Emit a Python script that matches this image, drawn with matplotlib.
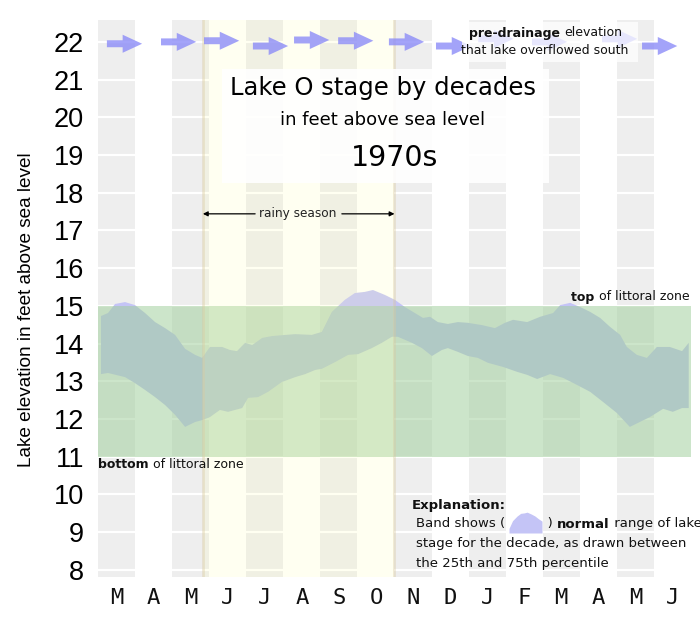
import numpy as np
import matplotlib.pyplot as plt
import matplotlib.font_manager as fm
from matplotlib.patches import Rectangle

W, H = 700, 623

month_labels = ['M', 'A', 'M', 'J', 'J', 'A', 'S', 'O', 'N', 'D', 'J', 'F', 'M', 'A', 'M', 'J']

# 75th percentile edge of the band (month position from start of March, feet)
upper_month = [0.08, 0.27, 0.46, 0.73, 1.00, 1.27, 1.54, 1.81, 2.08, 2.35, 2.62, 2.81,
               3.02, 3.35, 3.56, 3.75, 3.97, 4.16, 4.43, 4.70, 5.32, 5.77, 6.04, 6.31,
               6.66, 6.93, 7.20, 7.42, 7.74, 8.01, 8.28, 8.55, 8.77, 8.96, 9.17, 9.44,
               9.71, 9.98, 10.36, 10.71, 10.98, 11.20, 11.58, 11.93, 12.28, 12.47, 12.74,
               13.01, 13.28, 13.55, 13.82, 14.09, 14.27, 14.54, 14.81, 15.08, 15.43,
               15.76, 15.94]
upper_ft = [14.73, 14.81, 15.05, 15.10, 15.02, 14.81, 14.57, 14.41, 14.23, 13.86, 13.70, 13.62,
            13.91, 13.91, 13.83, 13.80, 14.02, 13.96, 14.15, 14.20, 14.25, 14.23, 14.31, 14.84,
            15.16, 15.34, 15.37, 15.42, 15.29, 15.16, 14.97, 14.81, 14.68, 14.71, 14.57, 14.52,
            14.57, 14.55, 14.49, 14.41, 14.55, 14.63, 14.57, 14.71, 14.81, 15.02, 15.08,
            14.97, 14.84, 14.68, 14.44, 14.23, 13.91, 13.70, 13.62, 13.91, 13.91,
            13.80, 14.02]

# 25th percentile edge
lower_month = [0.08, 0.27, 0.73, 1.00, 1.27, 1.54, 1.81, 2.08, 2.35, 2.62, 2.81, 3.02,
               3.29, 3.51, 3.89, 4.05, 4.32, 4.59, 4.96, 5.32, 5.59, 5.86, 6.04, 6.40,
               6.75, 7.02, 7.39, 7.66, 7.93, 8.09, 8.47, 8.74, 9.01, 9.28, 9.44, 9.71,
               9.98, 10.25, 10.52, 10.93, 11.31, 11.58, 11.85, 12.20, 12.55, 12.93,
               13.28, 13.63, 14.00, 14.35, 14.62, 14.89, 15.25, 15.51, 15.76, 15.94]
lower_ft = [13.19, 13.22, 13.11, 12.95, 12.77, 12.58, 12.37, 12.11, 11.79, 11.92, 11.97, 12.05,
            12.24, 12.19, 12.29, 12.56, 12.58, 12.72, 12.98, 13.11, 13.19, 13.30, 13.33, 13.51,
            13.70, 13.72, 13.88, 14.02, 14.18, 14.18, 14.02, 13.88, 13.67, 13.83, 13.88, 13.78,
            13.67, 13.62, 13.49, 13.38, 13.25, 13.17, 13.06, 13.19, 13.09, 12.90,
            12.72, 12.45, 12.16, 11.79, 11.92, 12.05, 12.27, 12.19, 12.29, 12.29]

littoral_bottom = 11
littoral_top = 15
rainy_start = 2.83
rainy_end = 8.0

# pre-drainage overflow arrows near 22 ft
arrow_month = [0.24, 1.70, 2.86, 4.18, 5.29, 6.48, 7.85, 9.12, 10.26, 11.71, 13.60, 14.68]
arrow_ft = [21.95, 22.0, 22.03, 21.89, 22.05, 22.03, 22.0, 21.89, 22.08, 22.0, 22.08, 21.89]
arrow_len = 0.95


def fxy(x, y):
    return x / W, 1 - y / H


def runs(x, y, pieces, size, color='#111111'):
    # write text pieces one after another (mixing bold and normal)
    r = fig.canvas.get_renderer()
    for s, w in pieces:
        t = fig.text(*fxy(x, y), s, size=size, weight=w, color=color,
                     ha='left', va='center', zorder=10)
        x += t.get_window_extent(r).width


fig = plt.figure(figsize=(7, 6.23), dpi=100)
ax = fig.add_axes([98 / W, 46 / H, 600 / W, 557 / H])
ax.set_xlim(0, 600 / 37.06)
ax.set_ylim(7.81, 22.58)

for i in range(0, 16, 2):
    ax.axvspan(i, i + 1, color='#eeeeee', lw=0, zorder=0.5)
for v in range(8, 23):
    ax.axhline(v, color='white', lw=1.6, zorder=1)

ax.fill(np.r_[upper_month, lower_month[::-1]], np.r_[upper_ft, lower_ft[::-1]],
        color='#c4c4f6', lw=0, zorder=2)
ax.axhspan(littoral_bottom, littoral_top, xmax=16 / (600 / 37.06),
           color='#a0ce9b', alpha=0.53, lw=0, zorder=3)

ax.axvspan(rainy_start, rainy_end, color='#ffffb0', alpha=0.17, lw=0, zorder=5)
for xv in (rainy_start, rainy_end):
    ax.axvline(xv, color='#d9c9a0', alpha=0.4, lw=2, zorder=5)

for m, v in zip(arrow_month, arrow_ft):
    ax.annotate('', xy=(m + arrow_len, v), xytext=(m, v), zorder=6,
                arrowprops=dict(arrowstyle='simple,head_length=1.4,head_width=1.3,tail_width=0.5',
                                mutation_scale=10, fc='#8c8cf8', ec='none', alpha=0.8,
                                shrinkA=0, shrinkB=0))

# rainy season marker
ax.annotate('', xy=(rainy_start, 17.44), xytext=(4.24, 17.44), zorder=7,
            arrowprops=dict(arrowstyle='-|>', mutation_scale=7, color='black', lw=0.9,
                            shrinkA=0, shrinkB=0))
ax.annotate('', xy=(rainy_end, 17.44), xytext=(6.58, 17.44), zorder=7,
            arrowprops=dict(arrowstyle='-|>', mutation_scale=7, color='black', lw=0.9,
                            shrinkA=0, shrinkB=0))
ax.text(5.39, 17.44, 'rainy season', size=8.7, ha='center', va='center', color='#222222', zorder=7)

for s in ax.spines.values():
    s.set_visible(False)
ax.set_yticks(range(8, 23))
ax.tick_params(axis='y', length=0, pad=10, labelsize=19.5)
for lbl in ax.get_yticklabels():
    lbl.set_fontfamily('Liberation Sans')
ax.set_xticks(np.arange(16) + 0.5, month_labels)
ax.tick_params(axis='x', length=0, pad=8, labelsize=16, labelcolor='#111111')
for lbl in ax.get_xticklabels():
    lbl.set_fontfamily('DejaVu Sans Mono')

# y label: narrow font if there is one, fitted to the reference length
names = {f.name for f in fm.fontManager.ttflist}
yfam = 'Liberation Sans Narrow' if 'Liberation Sans Narrow' in names else 'Liberation Sans'
ylab = fig.text(27 / W, 1 - 310 / H, 'Lake elevation in feet above sea level', rotation=90,
                ha='center', va='center', size=15.5, family=yfam)
span = ylab.get_window_extent(fig.canvas.get_renderer()).height
ylab.set_fontsize(15.5 * 316 / span)

# title box
fig.add_artist(Rectangle(fxy(222, 183), 327 / W, 114 / H, transform=fig.transFigure,
                         fc='white', ec='none', alpha=0.9, zorder=8))
fig.text(*fxy(383, 88), 'Lake O stage by decades', size=17.5, ha='center', va='center', zorder=10)
fig.text(*fxy(383, 120), 'in feet above sea level', size=13, ha='center', va='center', zorder=10)
fig.text(*fxy(395, 158), '1970s', size=20.5, ha='center', va='center', zorder=10)

# pre-drainage note
fig.add_artist(Rectangle(fxy(462, 62), 176 / W, 40 / H, transform=fig.transFigure,
                         fc='white', ec='none', alpha=0.75, zorder=8))
runs(469, 33, [('pre-drainage ', 'bold'), ('elevation', 'normal')], 9)
fig.text(*fxy(545, 51), 'that lake overflowed south', size=9, ha='center', va='center',
         color='#111111', zorder=10)

runs(98, 465, [('bottom ', 'bold'), ('of littoral zone', 'normal')], 9)
runs(571, 297, [('top ', 'bold'), ('of littoral zone', 'normal')], 9)

# explanation
runs(412, 505, [('Explanation:', 'bold')], 9.5)
runs(416, 524, [('Band shows (          ) ', 'normal'), ('normal', 'bold'),
                (' range of lake', 'normal')], 9.5)
runs(416, 544, [('stage for the decade, as drawn between', 'normal')], 9.5)
runs(416, 563, [('the 25th and 75th percentile', 'normal')], 9.5)

# little swatch of the band inside the explanation
sw = fig.add_axes([509 / W, 1 - 533 / H, 33 / W, 22 / H])
sw.fill_between(upper_month[22:32], upper_ft[22:32], 14.0, color='#c4c4f6', lw=0)
sw.set_xlim(upper_month[22], upper_month[31])
sw.set_ylim(14.0, 15.5)
sw.axis('off')

fig.savefig('out.png', dpi=100)
